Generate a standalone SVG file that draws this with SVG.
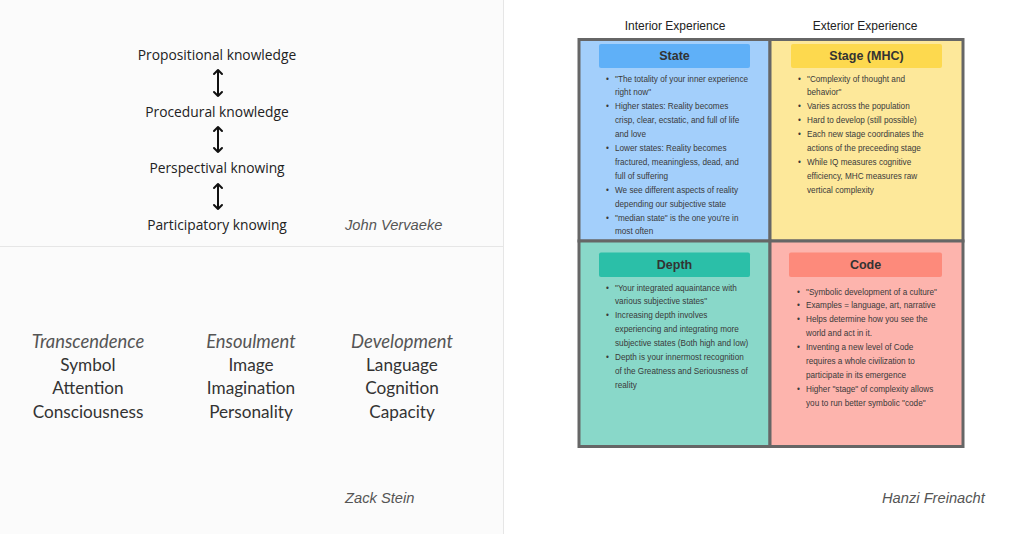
<svg xmlns="http://www.w3.org/2000/svg" width="1024" height="534" viewBox="0 0 1024 534">
<style>
.k{font-family:"Open Sans",sans-serif;font-size:13.8px;fill:#222;text-anchor:middle}
.au{font-family:"Liberation Sans",Arial,sans-serif;font-size:14.7px;font-style:italic;fill:#555}
.z{font-family:Lato,sans-serif;font-size:17.2px;fill:#333;text-anchor:middle}
.zi{font-style:italic;fill:#555;font-size:18.4px}
.col{font-family:"Liberation Sans",Arial,sans-serif;font-size:12px;fill:#222;text-anchor:middle}
.hd{font-family:"Liberation Sans",Arial,sans-serif;font-size:12.5px;font-weight:bold;fill:#333;text-anchor:middle}
.b{font-family:"Liberation Sans",Arial,sans-serif;font-size:8.2px;fill:#3a3a3a}
.arr{fill:none;stroke:#111;stroke-width:2;stroke-linecap:round;stroke-linejoin:round}
.cell{stroke:#666;stroke-width:3}
</style>
<rect x="0" y="0" width="1024" height="534" fill="#ffffff"/>
<rect x="0" y="0" width="503" height="534" fill="#fbfbfb"/>
<line x1="503.5" y1="0" x2="503.5" y2="534" stroke="#e6e6e6" stroke-width="1"/>
<line x1="0" y1="246.5" x2="503" y2="246.5" stroke="#e6e6e6" stroke-width="1"/>

<g id="vervaeke">
<text class="k" x="217" y="60">Propositional knowledge</text>
<text class="k" x="217" y="117">Procedural knowledge</text>
<text class="k" x="217" y="173">Perspectival knowing</text>
<text class="k" x="217" y="230">Participatory knowing</text>
<text class="au" x="345" y="230">John Vervaeke</text>
</g>
<g id="connectors">
<path class="arr" d="M218 70V96M214 74L218 70L222 74M214 92L218 96L222 92"/>
<path class="arr" d="M218 127V152M214 131L218 127L222 131M214 148L218 152L222 148"/>
<path class="arr" d="M218 184V209M214 188L218 184L222 188M214 205L218 209L222 205"/>
</g>

<g id="stein">
<text class="z zi" x="88" y="348">Transcendence</text>
<text class="z" x="88" y="371">Symbol</text>
<text class="z" x="88" y="394">Attention</text>
<text class="z" x="88" y="418">Consciousness</text>
<text class="z zi" x="251" y="348">Ensoulment</text>
<text class="z" x="251" y="371">Image</text>
<text class="z" x="251" y="394">Imagination</text>
<text class="z" x="251" y="418">Personality</text>
<text class="z zi" x="402" y="348">Development</text>
<text class="z" x="402" y="371">Language</text>
<text class="z" x="402" y="394">Cognition</text>
<text class="z" x="402" y="418">Capacity</text>
<text class="au" x="345" y="503">Zack Stein</text>
</g>

<text class="col" x="675" y="30">Interior Experience</text>
<text class="col" x="865" y="30">Exterior Experience</text>

<g id="state">
<rect class="cell" x="579" y="39.5" width="191" height="201.5" fill="#a3cffb"/>
<rect x="599" y="44" width="151" height="24" rx="2" fill="#5fb0f8"/>
<text class="hd" x="674.5" y="60">State</text>
<g class="b">
<text x="606" y="81.5">•</text><text x="615" y="81.5">"The totality of your inner experience</text>
<text x="615" y="95.4">right now"</text>
<text x="606" y="109.3">•</text><text x="615" y="109.3">Higher states: Reality becomes</text>
<text x="615" y="123.2">crisp, clear, ecstatic, and full of life</text>
<text x="615" y="137.1">and love</text>
<text x="606" y="151">•</text><text x="615" y="151">Lower states: Reality becomes</text>
<text x="615" y="164.9">fractured, meaningless, dead, and</text>
<text x="615" y="178.8">full of suffering</text>
<text x="606" y="192.7">•</text><text x="615" y="192.7">We see different aspects of reality</text>
<text x="615" y="206.6">depending our subjective state</text>
<text x="606" y="220.5">•</text><text x="615" y="220.5">"median state" is the one you're in</text>
<text x="615" y="234.4">most often</text>
</g>
</g>

<g id="stage">
<rect class="cell" x="770" y="39.5" width="193" height="201.5" fill="#fde89a"/>
<rect x="791" y="44" width="151" height="24" rx="2" fill="#fdd94e"/>
<text class="hd" x="866.5" y="60">Stage (MHC)</text>
<g class="b">
<text x="798" y="81.5">•</text><text x="807" y="81.5">"Complexity of thought and</text>
<text x="807" y="95.4">behavior"</text>
<text x="798" y="109.3">•</text><text x="807" y="109.3">Varies across the population</text>
<text x="798" y="123.2">•</text><text x="807" y="123.2">Hard to develop (still possible)</text>
<text x="798" y="137.1">•</text><text x="807" y="137.1">Each new stage coordinates the</text>
<text x="807" y="151">actions of the preceeding stage</text>
<text x="798" y="164.9">•</text><text x="807" y="164.9">While IQ measures cognitive</text>
<text x="807" y="178.8">efficiency, MHC measures raw</text>
<text x="807" y="192.7">vertical complexity</text>
</g>
</g>

<g id="depth">
<rect class="cell" x="579" y="241" width="191" height="205.5" fill="#89d8c9"/>
<rect x="599" y="252.5" width="151" height="24.5" rx="2" fill="#2bbfa8"/>
<text class="hd" x="674.5" y="269">Depth</text>
<g class="b">
<text x="606" y="290.5">•</text><text x="615" y="290.5">"Your integrated aquaintance with</text>
<text x="615" y="304.4">various subjective states"</text>
<text x="606" y="318.3">•</text><text x="615" y="318.3">Increasing depth involves</text>
<text x="615" y="332.2">experiencing and integrating more</text>
<text x="615" y="346.1">subjective states (Both high and low)</text>
<text x="606" y="360">•</text><text x="615" y="360">Depth is your innermost recognition</text>
<text x="615" y="373.9">of the Greatness and Seriousness of</text>
<text x="615" y="387.8">reality</text>
</g>
</g>

<g id="code">
<rect class="cell" x="770" y="241" width="193" height="205.5" fill="#fdb4ad"/>
<rect x="789" y="252.5" width="153" height="24.5" rx="2" fill="#fd8a7b"/>
<text class="hd" x="865.5" y="269">Code</text>
<g class="b">
<text x="797" y="294.5">•</text><text x="806" y="294.5">"Symbolic development of a culture"</text>
<text x="797" y="308.4">•</text><text x="806" y="308.4">Examples =  language, art, narrative</text>
<text x="797" y="322.3">•</text><text x="806" y="322.3">Helps determine how you see the</text>
<text x="806" y="336.2">world and act in it.</text>
<text x="797" y="350.1">•</text><text x="806" y="350.1">Inventing a new level of Code</text>
<text x="806" y="364">requires a whole civilization to</text>
<text x="806" y="377.9">participate in its emergence</text>
<text x="797" y="391.8">•</text><text x="806" y="391.8">Higher "stage" of complexity allows</text>
<text x="806" y="405.7">you to run better symbolic "code"</text>
</g>
</g>

<text class="au" x="882" y="503">Hanzi Freinacht</text>
</svg>
